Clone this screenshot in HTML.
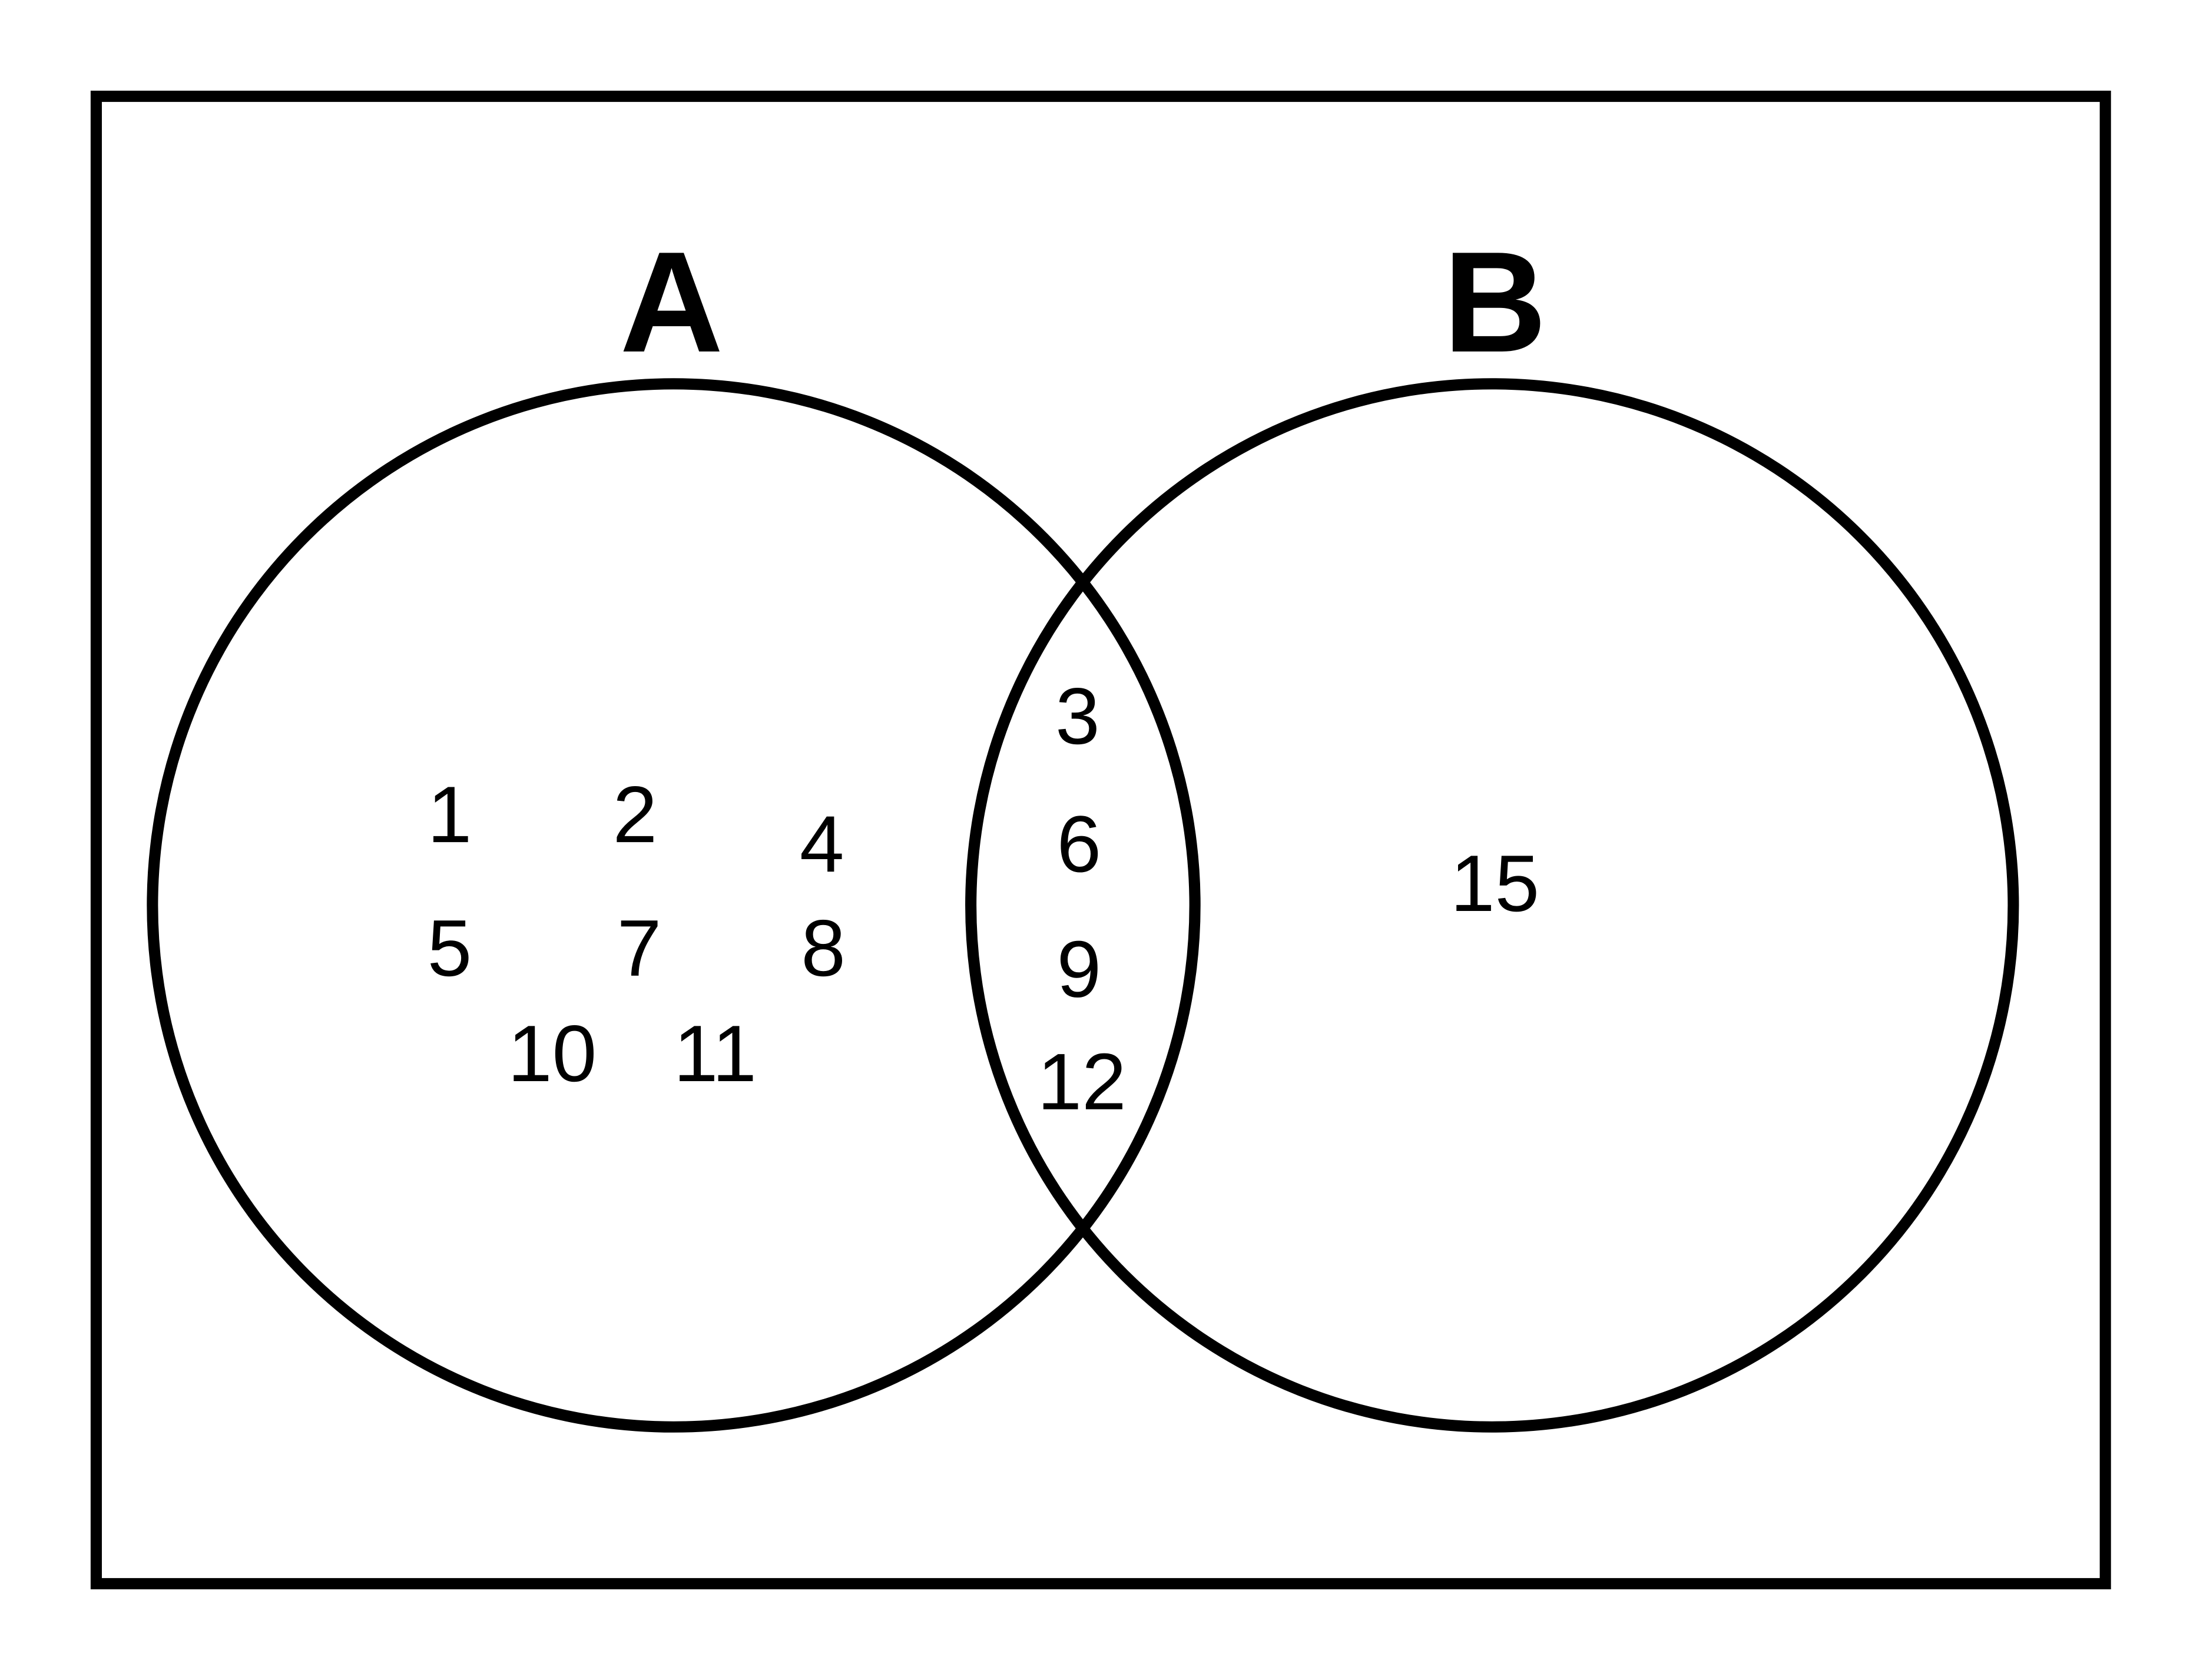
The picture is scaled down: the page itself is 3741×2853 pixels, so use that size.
<!DOCTYPE html>
<html><head><meta charset="utf-8"><style>
html,body{margin:0;padding:0;background:#fff;}
svg{display:block;}
</style></head><body>
<svg width="3741" height="2853" viewBox="0 0 1568 1195" preserveAspectRatio="none" xmlns="http://www.w3.org/2000/svg">
<rect x="0" y="0" width="1568" height="1195" fill="#fff"/>
<rect x="68.5" y="68.5" width="1430" height="1058" fill="none" stroke="#000" stroke-width="8"/>
<circle cx="479.5" cy="644" r="371" fill="none" stroke="#000" stroke-width="8"/>
<circle cx="1062" cy="644" r="371" fill="none" stroke="#000" stroke-width="8"/>
<g font-family="Liberation Sans, sans-serif" font-weight="bold" font-size="102" text-anchor="middle">
<text x="478" y="250">A</text>
<text x="1064" y="250">B</text>
</g>
<g font-family="Liberation Sans, sans-serif" font-size="57" text-anchor="middle">
<text x="320" y="599">1</text>
<text x="452" y="599">2</text>
<text x="585" y="620">4</text>
<text x="320" y="694">5</text>
<text x="455" y="694">7</text>
<text x="586" y="694">8</text>
<text x="393" y="769">10</text>
<text x="509" y="769">11</text>
<text x="767" y="529">3</text>
<text x="768" y="620">6</text>
<text x="768" y="709">9</text>
<text x="770" y="789">12</text>
<text x="1064" y="648">15</text>
</g>
</svg>
</body></html>
